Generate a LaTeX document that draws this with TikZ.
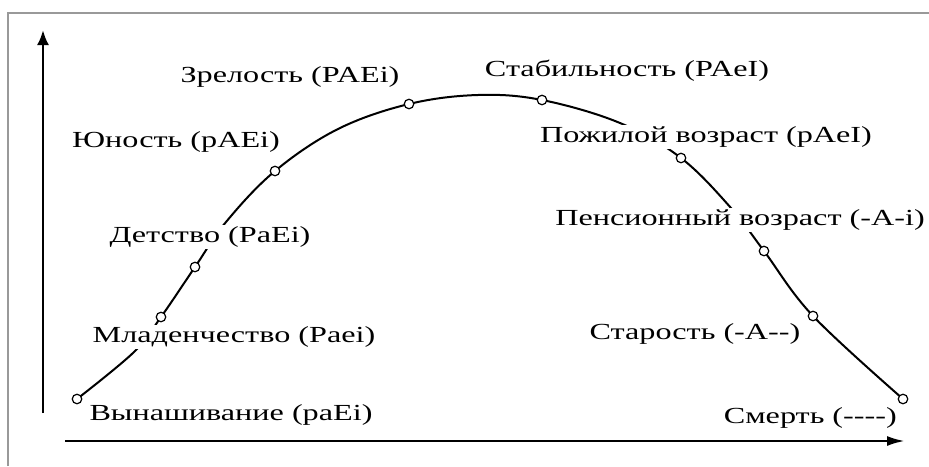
\documentclass[tikz,border=0pt]{standalone}
\usepackage{fontspec}
\setmainfont[FakeStretch=1.4]{Liberation Serif}
\usetikzlibrary{arrows.meta}
\begin{document}
\begin{tikzpicture}[x=1pt,y=-1pt,
  lbl/.style={fill=white, inner sep=2pt, font=\fontsize{23}{27}\selectfont},
  stage/.style={circle, draw, fill=white, line width=1.2pt, minimum size=9.5pt, inner sep=0pt},
  curveline/.style={line width=2pt},
  axisline/.style={line width=2.6pt}]
\useasboundingbox (0,0) rectangle (929,466);
% frame
\draw[gray!80, line width=1.5pt] (8,466) -- (8,13) -- (929,13);
% axes
\coordinate (yo) at (43,413);
\coordinate (yt) at (43,30);
\coordinate (xo) at (65,441);
\coordinate (xt) at (905,441);
\draw[axisline,-{Latex[length=15pt,width=12pt]}] (yo) -- (yt);
\draw[axisline,-{Latex[length=18pt,width=10pt]}] (xo) -- (xt);
% stage points
\coordinate (s1) at (77,399);
\coordinate (s2) at (161,317);
\coordinate (s3) at (195,267);
\coordinate (s4) at (275,171);
\coordinate (s5) at (409,104);
\coordinate (s6) at (542,100);
\coordinate (s7) at (681,158);
\coordinate (s8) at (764,251);
\coordinate (s9) at (813,316);
\coordinate (s10) at (903,399);
% curve
\draw[curveline] plot[smooth, tension=0.6] coordinates {(s1) (134,352) (s2) (s3) (226,222) (s4) (338,129) (s5) (478,95) (s6) (620,123) (s7) (731,208) (s8) (s9) (s10)};
% labels
\node[lbl] (l1) at (231,415) {Вынашивание (paEi)};
\node[lbl] (l2) at (234,337) {Младенчество (Paei)};
\node[lbl] (l3) at (210,237) {Детство (PaEi)};
\node[lbl] (l4) at (176,142) {Юность (pAEi)};
\node[lbl] (l5) at (290,77) {Зрелость (PAEi)};
\node[lbl] (l6) at (627,71) {Стабильность (PAeI)};
\node[lbl] (l7) at (706,137) {Пожилой возраст (pAeI)};
\node[lbl] (l8) at (740,220) {Пенсионный возраст ({-}A{-}i)};
\node[lbl] (l9) at (695,334) {Старость ({-}A{-}{-})};
\node[lbl, anchor=east] (l10) at (899,418) {Смерть ({-}{-}{-}{-})};
% stage markers
\foreach \i in {1,...,10} \node[stage] (c\i) at (s\i) {};
\end{tikzpicture}
\end{document}
